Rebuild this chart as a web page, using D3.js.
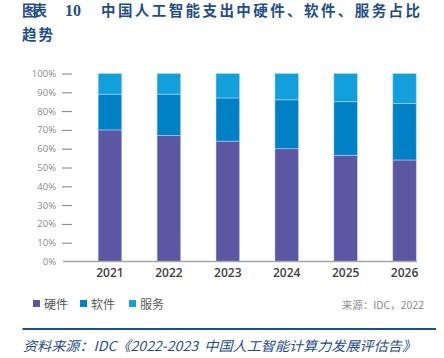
<!DOCTYPE html>
<html>
<head>
<meta charset="utf-8">
<script src="https://cdn.jsdelivr.net/npm/d3@7/dist/d3.min.js"></script>
<style>
html,body{margin:0;padding:0;background:#fff;}
svg{display:block;}
text{white-space:pre;}
</style>
</head>
<body>
<div id="chart"></div>
<script>
const years = ["2021","2022","2023","2024","2025","2026"];
const hardware = [70, 67, 64, 60, 56.5, 54];
const software = [19, 22, 23, 26, 28.5, 30];
const services = [11, 11, 13, 14, 15, 16];
const seriesNames = ["硬件","软件","服务"];
const seriesColors = ["#5B57A2","#0081C6","#12A0DC"];
const yTicks = [0,10,20,30,40,50,60,70,80,90,100];

const W = 444, H = 358;
const svg = d3.select("#chart").append("svg").attr("width", W).attr("height", H);

// Title
const titleColor = "#1F4E8C";
const t1 = svg.append("text").attr("x", 22).attr("y", 15.5)
  .attr("fill", titleColor).attr("font-weight", "bold")
  .attr("font-family", "'Noto Sans CJK SC', sans-serif").attr("font-size", 14.5);
t1.append("tspan").attr("textLength", 25).attr("lengthAdjust","spacing").text("图表");
t1.append("tspan").attr("x", 65).attr("font-family","'Liberation Serif', serif").attr("font-size",16).text("10");
t1.append("tspan").attr("x", 101).text("中国人工智能支出中硬件、软件、服务占比")
  .attr("textLength", 319).attr("lengthAdjust","spacing");
svg.append("text").attr("x", 22).attr("y", 39.5)
  .attr("fill", titleColor).attr("font-weight", "bold")
  .attr("font-family", "'Noto Sans CJK SC', sans-serif").attr("font-size", 14.5)
  .attr("textLength", 31).attr("lengthAdjust","spacing")
  .text("趋势");

// Scales
const x = d3.scaleBand().domain(years).range([80.5, 434]).paddingInner(0.6).paddingOuter(0.3);
const y = d3.scaleLinear().domain([0, 100]).range([261.5, 73.5]);

// Stack data
const rows = years.map((yr, i) => ({year: yr, "硬件": hardware[i], "软件": software[i], "服务": services[i]}));
const stacked = d3.stack().keys(seriesNames)(rows);

// Y axis
const yAxis = d3.axisLeft(y).tickValues(yTicks).tickFormat(d => d + "%").tickSize(10).tickPadding(6);
const yg = svg.append("g").attr("transform", "translate(72,0)").call(yAxis);
yg.select(".domain").remove();
yg.selectAll(".tick line").attr("stroke", "#7f7f7f").attr("stroke-width", 1);
yg.selectAll(".tick text").attr("fill", "#8a8a8a").attr("font-size", 9.5)
  .attr("font-family", "'Open Sans', sans-serif");
yg.selectAll(".tick").filter(d => d === 0).select("line").remove();

// Bars
svg.append("g").selectAll("g").data(stacked).join("g")
  .attr("fill", (d, i) => seriesColors[i])
  .selectAll("rect").data(d => d).join("rect")
  .attr("x", d => x(d.data.year))
  .attr("width", x.bandwidth())
  .attr("y", d => y(d[1]))
  .attr("height", d => y(d[0]) - y(d[1]))
  .attr("stroke", "rgba(200,220,245,0.6)").attr("stroke-width", 0.8);

// X axis baseline
const xAxis = d3.axisBottom(x).tickSize(0).tickPadding(7);
const xg = svg.append("g").attr("transform", "translate(0,261.5)").call(xAxis);
xg.select(".domain").attr("stroke", "#a6a6a6").attr("stroke-width", 1.3)
  .attr("d", "M63,0H417");
xg.selectAll(".tick text").attr("fill", "#404040").attr("font-size", 12)
  .attr("font-family", "'Open Sans', sans-serif").attr("font-weight", 600);

// Legend
const legX = [33, 80, 129];
const lg = svg.append("g");
seriesNames.forEach((n, i) => {
  lg.append("rect").attr("x", legX[i]).attr("y", 300).attr("width", 7).attr("height", 7).attr("fill", seriesColors[i]);
  lg.append("text").attr("x", legX[i] + 11).attr("y", 308.5).text(n)
    .attr("fill", "#595959").attr("font-size", 12).attr("font-family", "'Noto Sans CJK SC', sans-serif");
});

// Source note
svg.append("text").attr("x", 424).attr("y", 308.5).attr("text-anchor", "end")
  .attr("fill", "#8c8c8c").attr("font-size", 10.5).attr("font-family", "'Noto Sans CJK SC', sans-serif")
  .text("来源：IDC，2022");

// Divider line
svg.append("line").attr("x1", 22.5).attr("x2", 436).attr("y1", 329).attr("y2", 329)
  .attr("stroke", titleColor).attr("stroke-width", 2);

// Footer
svg.append("text").attr("x", 23).attr("y", 351)
  .attr("fill", titleColor).attr("font-style", "italic").attr("font-size", 13.5)
  .attr("font-family", "'Noto Sans CJK SC', sans-serif")
  .attr("textLength", 393).attr("lengthAdjust", "spacingAndGlyphs")
  .text("资料来源：IDC《2022-2023  中国人工智能计算力发展评估告》");
</script>
</body>
</html>
